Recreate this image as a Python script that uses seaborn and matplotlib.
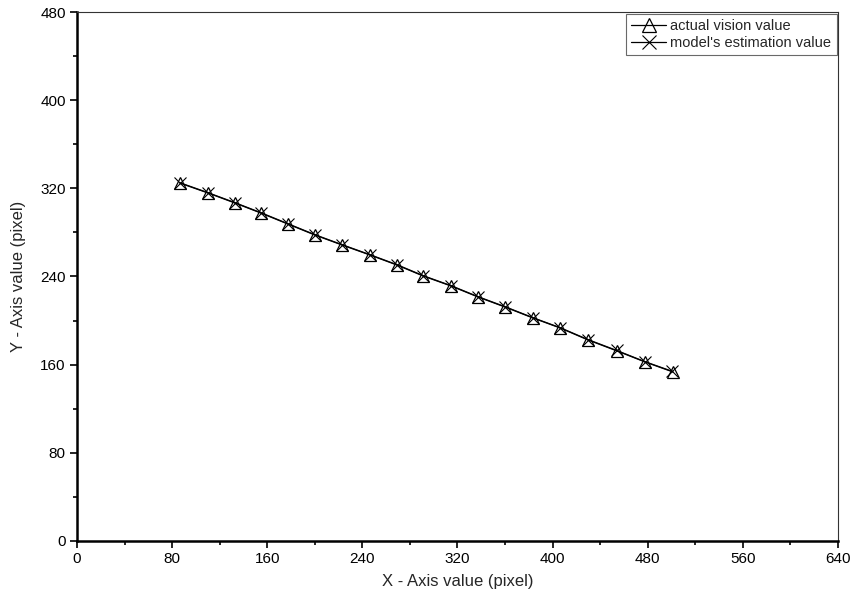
import matplotlib
matplotlib.use("Agg")
import matplotlib.pyplot as plt
import seaborn as sns
import pandas as pd
from matplotlib.ticker import MultipleLocator

actual_x = [86.6, 110.2, 132.9, 154.7, 177.4, 200.2, 222.9, 246.4, 269.1, 291.0,
            314.5, 337.2, 359.9, 383.5, 406.2, 429.7, 454.1, 477.7, 501.2]
actual_y = [324.8, 315.8, 306.7, 297.6, 287.6, 277.6, 268.6, 259.5, 250.4, 240.5,
            231.4, 221.4, 212.3, 202.3, 193.3, 182.4, 172.4, 162.4, 153.3]
model_x = [86.9, 110.5, 133.2, 155.0, 177.7, 200.5, 223.2, 246.7, 269.4, 291.3,
           314.8, 337.5, 360.2, 383.7, 406.4, 429.8, 454.0, 477.3, 500.6]
model_y = [325.0, 316.0, 306.9, 297.8, 287.8, 277.8, 268.8, 259.7, 250.6, 240.7,
           231.6, 221.6, 212.5, 202.5, 193.5, 182.7, 172.8, 162.8, 153.9]
series_names = ["actual vision value", "model's estimation value"]

sns.set_theme(style="white")
plt.rcParams['font.family'] = ['Liberation Sans', 'DejaVu Sans']

fig = plt.figure(figsize=(8.57, 6.09), dpi=100)
ax = fig.add_axes([0.0898, 0.112, 0.8880, 0.868])

df_a = pd.DataFrame({"x": actual_x, "y": actual_y})
df_m = pd.DataFrame({"x": model_x, "y": model_y})

sns.lineplot(data=df_a, x="x", y="y", ax=ax, color="black", lw=0.9, marker="^",
             markersize=8, markerfacecolor="none", markeredgecolor="black",
             markeredgewidth=0.9, label=series_names[0], sort=False)
sns.lineplot(data=df_m, x="x", y="y", ax=ax, color="black", lw=0.9, marker="x",
             markersize=8, markeredgecolor="black", markeredgewidth=0.8,
             label=series_names[1], sort=False)

ax.set_xlim(0, 640)
ax.set_ylim(0, 480)
ax.xaxis.set_major_locator(MultipleLocator(80))
ax.yaxis.set_major_locator(MultipleLocator(80))
ax.xaxis.set_minor_locator(MultipleLocator(40))
ax.yaxis.set_minor_locator(MultipleLocator(40))

for s in ["left", "bottom"]:
    ax.spines[s].set_linewidth(1.8)
    ax.spines[s].set_color("black")
for s in ["top", "right"]:
    ax.spines[s].set_linewidth(0.8)
    ax.spines[s].set_color("#333333")

ax.tick_params(axis="both", which="major", direction="out", length=5, width=1.2,
               colors="black", labelsize=11, bottom=True, left=True, pad=3)
ax.tick_params(axis="both", which="minor", direction="out", length=3, width=1.2,
               colors="black", bottom=True, left=True)

ax.set_xlabel("X - Axis value (pixel)", fontsize=12, labelpad=6)
ax.set_ylabel("Y - Axis value (pixel)", fontsize=12, labelpad=10)

leg = ax.legend(loc="upper right", fontsize=10.5, frameon=True, fancybox=False,
                edgecolor="#444444", borderaxespad=0.1, handlelength=2.4,
                handletextpad=0.3, borderpad=0.35, labelspacing=0.25)
leg.get_frame().set_linewidth(0.8)
for h in leg.legend_handles:
    h.set_markersize(10)

fig.savefig("out.png", dpi=100)
